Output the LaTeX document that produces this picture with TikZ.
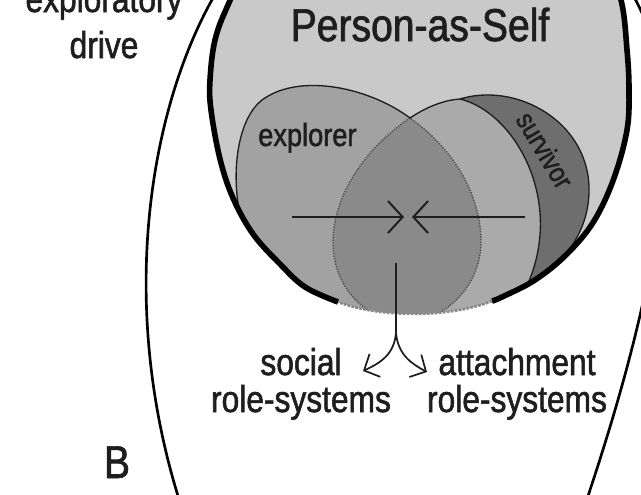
\documentclass[tikz,border=0pt]{standalone}
\usepackage{fontspec}
\setmainfont{Liberation Sans}[FakeStretch=0.85, FakeBold=1.5]
\usetikzlibrary{arrows.meta}

\definecolor{selfgray}{HTML}{C9C9C9}
\definecolor{explgray}{HTML}{A2A2A2}
\definecolor{rolegray}{HTML}{AAAAAA}
\definecolor{lensgray}{HTML}{8A8A8A}
\definecolor{survgray}{HTML}{6E6E6E}
\definecolor{inkgray}{HTML}{1E1E1E}

% rim of the Person-as-Self ellipse (open at the bottom)
\newcommand{\selfrim}{plot[smooth, tension=0.6] coordinates {(338,302) (305,287) (280,264) (253,234) (233,198) (220,159) (211,110) (210,80) (215,40) (228,5) (255,-50) (300,-95) (360,-120) (420,-127) (490,-118) (560,-90) (603,-45) (621,0) (627,50) (629,90) (627,130) (614,178) (594,221) (567,254) (535,280) (502,297) (492,301)}}
\newcommand{\selfbottom}{(492,301) .. controls (450,318) and (380,318) .. (338,302)}

\tikzset{
  rimline/.style={line width=4.2pt, draw=black},
  edgeline/.style={line width=1pt, draw=inkgray},
  lensline/.style={line width=1pt, draw=inkgray!80, densely dotted},
  pull/.style={line width=1.5pt, draw=inkgray, -{Straight Barb[length=11pt, width=24pt]}},
  branch/.style={line width=1.3pt, draw=inkgray, -{Straight Barb[length=9pt, width=19pt]}},
  roletext/.style={font=\fontsize{28}{27.75}\selectfont, text=inkgray, inner sep=0pt, align=center},
  titletext/.style={font=\fontsize{34.5}{40}\selectfont, text=inkgray, inner sep=0pt},
}

\begin{document}
\begin{tikzpicture}[x=0.75pt,y=0.75pt,yscale=-1,xscale=1]
    \useasboundingbox (0,0) rectangle (641,494);

    %Curve Lines: outer boundary, left and right
    \draw [line width=2pt] (213,-2) .. controls (150,110) and (118,300) .. (178,496) ;
    \draw [line width=2pt] (634,-3) .. controls (680,80) and (680,220) .. (588,496) ;

    %Shape: Person-as-Self
    \fill [selfgray] \selfrim .. controls (450,318) and (380,318) .. (338,302) -- cycle;

    \begin{scope}
    \clip \selfrim .. controls (450,318) and (380,318) .. (338,302) -- cycle;
    %Shape: survivor
    \fill [survgray] (460,99) .. controls (522,80) and (603,130) .. (587,210) .. controls (581,240) and (560,265) .. (530,292) -- (560,340) -- (505,340) -- (505,320) .. controls (525,295) and (537,270) .. (540,235) .. controls (545,170) and (505,110) .. (460,99) -- cycle;
    %Shape: role-systems side
    \fill [rolegray] (410,118) .. controls (428,106) and (445,100) .. (460,99) .. controls (505,110) and (545,170) .. (540,235) .. controls (537,270) and (525,295) .. (505,320) -- (505,340) -- (405,340) -- (405,322) .. controls (370,320) and (332,290) .. (333,240) .. controls (334,195) and (365,148) .. (410,118) -- cycle;
    %Shape: explorer
    \fill [explgray] (410,118) .. controls (370,88) and (300,72) .. (262,100) .. controls (240,117) and (230,165) .. (240,215) -- (250,340) -- (405,340) -- (405,322) .. controls (445,322) and (482,285) .. (481,240) .. controls (480,195) and (455,150) .. (410,118) -- cycle;
    %Shape: overlap
    \fill [lensgray] (410,118) .. controls (365,148) and (334,195) .. (333,240) .. controls (332,290) and (370,322) .. (405,322) .. controls (445,322) and (482,285) .. (481,240) .. controls (480,195) and (455,150) .. (410,118) -- cycle;
    \draw [lensline] (410,118) .. controls (365,148) and (334,195) .. (333,240) .. controls (332,290) and (370,322) .. (405,322) .. controls (445,322) and (482,285) .. (481,240) .. controls (480,195) and (455,150) .. (410,118) ;
    % edges
    \draw [edgeline] (240,215) .. controls (230,165) and (240,117) .. (262,100) .. controls (300,72) and (370,88) .. (410,118) .. controls (428,106) and (445,100) .. (460,99) .. controls (522,80) and (603,130) .. (587,210) .. controls (581,240) and (560,265) .. (530,292) ;
    \draw [edgeline] (460,99) .. controls (505,110) and (545,170) .. (540,235) .. controls (537,270) and (525,295) .. (505,320) ;
    \end{scope}

    %Shape: rim
    \draw [rimline] \selfrim ;
    \draw [lensgray, line width=2pt, densely dotted] \selfbottom ;

    %Straight Lines: the two pulls
    \coordinate (pullL) at (292,217);
    \coordinate (pullR) at (525,217);
    \coordinate (meetL) at (404,217);
    \coordinate (meetR) at (412,217);
    \draw [pull] (pullL) -- (meetL);
    \draw [pull] (pullR) -- (meetR);

    %Curve Lines: fork to the role-systems
    \coordinate (stemtop) at (396,263);
    \coordinate (fork) at (396,333);
    \coordinate (toSocial) at (363,371);
    \coordinate (toAttach) at (427,372);
    \draw [line width=1.3pt, inkgray] (stemtop) -- (fork);
    \draw [branch] (fork) .. controls (394,355) and (380,363) .. (toSocial);
    \draw [branch] (fork) .. controls (398,355) and (412,364) .. (toAttach);

    % Text Node
    \node [titletext, anchor=base] (title) at (420,41) {Person-as-Self};
    % Text Node
    \node [roletext, anchor=base, font=\fontsize{28}{34.5}\selectfont] (drive) at (104,58) {exploratory\\drive};
    % Text Node
    \node [text=inkgray, anchor=base west, inner sep=0pt, font=\fontsize{24}{24}\selectfont] (explorer) at (258,146) {explorer};
    % Text Node
    \node [text=inkgray, inner sep=0pt, rotate=-59, font=\fontsize{21}{21}\selectfont] (survivor) at (545,150) {survivor};
    % Text Node
    \node [roletext, anchor=base] (social) at (301,412) {social\\role-systems};
    % Text Node
    \node [roletext, anchor=base] (attach) at (517,412) {attachment\\role-systems};
    % Text Node
    \node [titletext, anchor=base] (panel) at (117,478) {B};

\end{tikzpicture}
\end{document}
